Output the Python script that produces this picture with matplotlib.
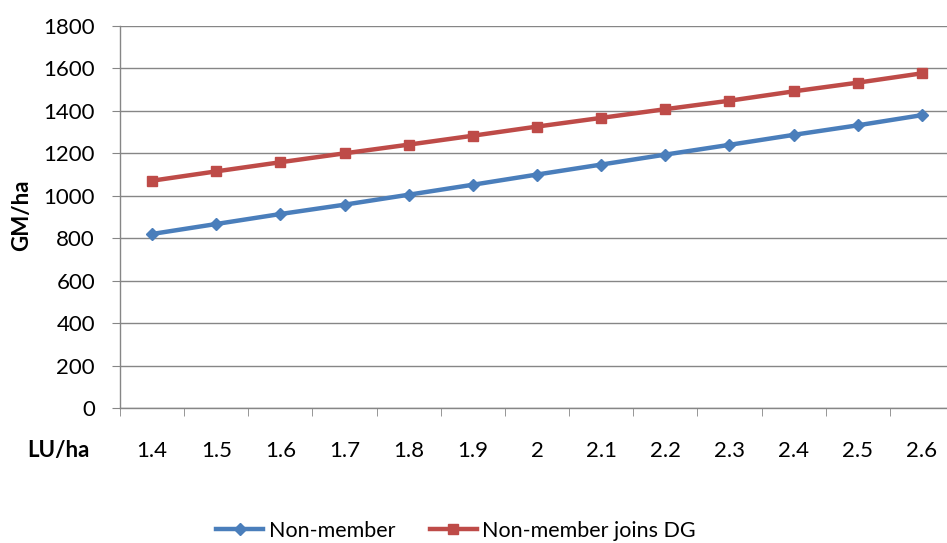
import matplotlib
matplotlib.use("Agg")
import matplotlib.pyplot as plt
import numpy as np

categories = ["1.4", "1.5", "1.6", "1.7", "1.8", "1.9", "2", "2.1", "2.2", "2.3", "2.4", "2.5", "2.6"]
non_member = [820, 867, 914, 958, 1005, 1052, 1100, 1147, 1194, 1240, 1287, 1332, 1380]
non_member_dg = [1071, 1115, 1158, 1200, 1241, 1283, 1326, 1367, 1408, 1448, 1492, 1533, 1577]
yticks = [0, 200, 400, 600, 800, 1000, 1200, 1400, 1600, 1800]

plt.rcParams['font.family'] = ['Lato', 'DejaVu Sans']

W, H = 947, 543
fig = plt.figure(figsize=(W / 100, H / 100), dpi=100)
left, right, bottom, top = 120, 954, 408, 26
ax = fig.add_axes([left / W, 1 - bottom / H, (right - left) / W, (bottom - top) / H])

x = np.arange(len(categories))
blue = "#4A7EBB"
red = "#BE4B48"
ax.plot(x, non_member, color=blue, lw=3.2, marker="D", ms=6.5, label="Non-member", zorder=3)
ax.plot(x, non_member_dg, color=red, lw=3.2, marker="s", ms=7.5, label="Non-member joins DG", zorder=3)

fs = 16
ax.set_xlim(-0.5, len(categories) - 0.5)
ax.set_ylim(0, 1800)
ax.set_yticks(yticks)
ax.set_yticklabels([str(v) for v in yticks], fontsize=fs)
ax.set_xticks(x)
ax.set_xticklabels(categories, fontsize=fs)
ax.set_xticks(np.arange(-0.5, len(categories), 1), minor=True)
ax.tick_params(axis="x", which="major", length=0, pad=24)
ax.tick_params(axis="x", which="minor", length=6, color="#868686", direction="out")
ax.tick_params(axis="y", which="major", length=6, color="#868686", direction="out", pad=12)

ax.grid(axis="y", color="#868686", lw=1)
ax.set_axisbelow(True)
for s in ["top", "right"]:
    ax.spines[s].set_visible(False)
for s in ["left", "bottom"]:
    ax.spines[s].set_color("#868686")
    ax.spines[s].set_linewidth(1)

fig.text(22 / W, 1 - 215 / H, "GM/ha", rotation=90, ha="center", va="center", fontsize=fs, fontweight="bold")
fig.text(58 / W, 1 - 451 / H, "LU/ha", ha="center", va="center", fontsize=fs, fontweight="bold")

fig.legend(loc="center", bbox_to_anchor=(456 / W, 1 - 531 / H), ncol=2, frameon=False,
           fontsize=15.5, handlelength=2.2, columnspacing=1.6, handletextpad=0.25)

fig.savefig("out.png", dpi=100)
